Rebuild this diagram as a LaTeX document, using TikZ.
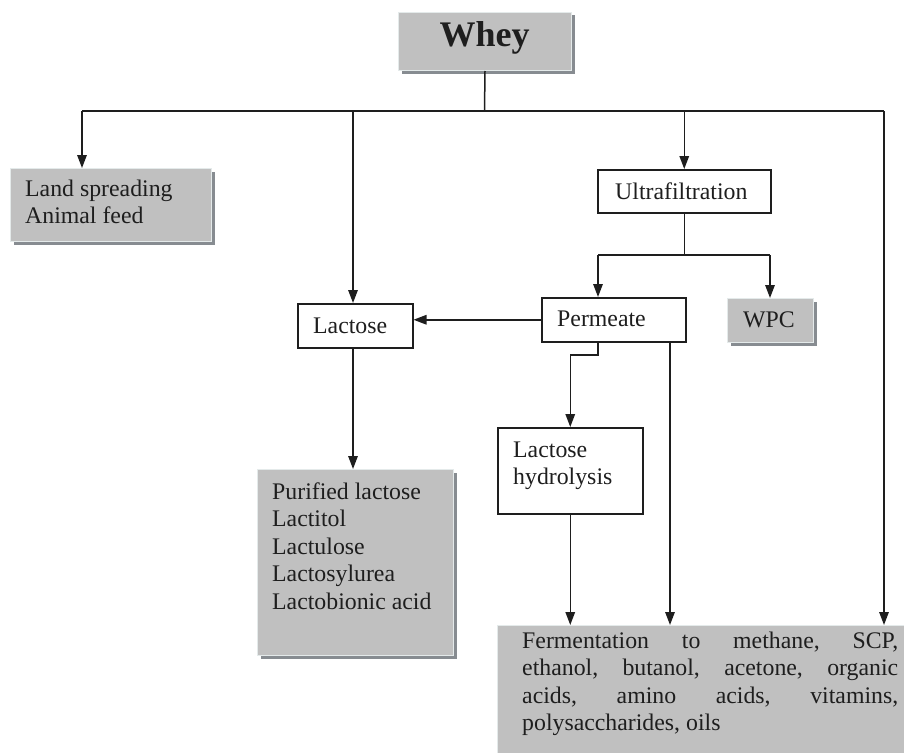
\documentclass[tikz,border=0pt]{standalone}
\usepackage{fontspec}
\setmainfont{Liberation Serif}
\usetikzlibrary{arrows.meta,shadows}
\definecolor{boxgray}{RGB}{192,192,192}
\definecolor{shadowgray}{RGB}{135,140,145}
\definecolor{edgelight}{RGB}{228,234,234}
\definecolor{ink}{RGB}{30,30,30}
\begin{document}
\begin{tikzpicture}[x=1pt,y=-1pt,
  line/.style={line width=1.5pt, draw=ink},
  arr/.style={line, -{Triangle[length=13pt,width=9.5pt]}},
  whitebox/.style={draw=ink, line width=1.5pt, fill=white, inner sep=0pt, anchor=north west},
  graybox/.style={fill=boxgray, draw=edgelight, line width=1pt, inner sep=0pt, anchor=north west,
     drop shadow={shadow xshift=3pt, shadow yshift=-3pt, fill=shadowgray, opacity=1}},
  flatgray/.style={fill=boxgray, draw=edgelight, line width=1pt, inner sep=0pt, anchor=north west},
  txt/.style={inner sep=0pt, anchor=base west, text=ink, font=\fontsize{23.8}{27.5}\selectfont},
]
\useasboundingbox (0,0) rectangle (904,752);

% boxes
\node[graybox, minimum width=173pt, minimum height=58pt] (whey) at (398,12) {};
\node[graybox, minimum width=201pt, minimum height=73pt] (land) at (10,168) {};
\node[whitebox, minimum width=173pt, minimum height=43pt] (ultra) at (597,169) {};
\node[whitebox, minimum width=115pt, minimum height=44pt] (lactose) at (297,303) {};
\node[whitebox, minimum width=144pt, minimum height=44pt] (perm) at (541,297) {};
\node[graybox, minimum width=86pt, minimum height=44pt] (wpc) at (727,298) {};
\node[whitebox, minimum width=145pt, minimum height=86pt] (hydro) at (497,427) {};
\node[graybox, minimum width=196pt, minimum height=186pt] (pur) at (257,469) {};
\node[flatgray, minimum width=410pt, minimum height=130pt] (ferm) at (497,625) {};

% texts
\node[inner sep=0pt, anchor=base, text=ink, font=\bfseries\fontsize{36}{40}\selectfont] (twhey) at (484.5,47) {Whey};
\node[txt] (tland) at (25,196) {\begin{tabular}[t]{@{}l@{}}Land spreading\\Animal feed\end{tabular}};
\node[txt] (tultra) at (615,199) {Ultrafiltration};
\node[txt] (tperm) at (557,326) {Permeate};
\node[txt] (tlact) at (313,333) {Lactose};
\node[txt] (twpc) at (743,327) {WPC};
\node[txt] (thydro) at (513,457) {\begin{tabular}[t]{@{}l@{}}Lactose\\hydrolysis\end{tabular}};
\node[txt] (tpur) at (272,499) {\begin{tabular}[t]{@{}l@{}}Purified lactose\\Lactitol\\Lactulose\\Lactosylurea\\Lactobionic acid\end{tabular}};
\node[txt] (tferm) at (522,648) {\begin{tabular}[t]{@{}l@{}}%
\hbox to 376pt{Fermentation\hfill to\hfill methane,\hfill SCP,}\\
\hbox to 376pt{ethanol,\hfill butanol,\hfill acetone,\hfill organic}\\
\hbox to 376pt{acids,\hfill amino\hfill acids,\hfill vitamins,}\\
polysaccharides, oils\end{tabular}};

% connectors
\coordinate (junc) at (484.5,111);
\coordinate (hl) at (82,111);
\coordinate (hr) at (884,111);
\coordinate (tl) at (353,111);
\draw[line] (whey.south) -- (junc);
\draw[line] (hl) -- (hr);
\draw[arr] (hl) -- (hl |- land.north);
\draw[arr] (tl) -- (tl |- lactose.north);
\draw[arr] (ultra.north |- hl) -- (ultra.north);
\draw[arr] (hr) -- (hr |- ferm.north);

\coordinate (ubl) at (598,255);
\coordinate (ubr) at (770,255);
\draw[line] (ultra.south) -- (ultra.south |- ubl);
\draw[line] (ubl) -- (ubr);
\draw[arr] (ubl) -- (ubl |- perm.north);
\draw[arr] (ubr) -- (ubr |- wpc.north);

\draw[arr] (perm.west) -- (perm.west -| lactose.east);
\draw[arr] (tl |- lactose.south) -- (tl |- pur.north);

\coordinate (pj) at (598,355);
\draw[arr] (pj |- perm.south) -- (pj) -| (hydro.north);
\coordinate (pr) at (670,341);
\draw[arr] (pr |- perm.south) -- (pr |- ferm.north);
\draw[arr] (hydro.south) -- (hydro.south |- ferm.north);
\end{tikzpicture}
\end{document}
